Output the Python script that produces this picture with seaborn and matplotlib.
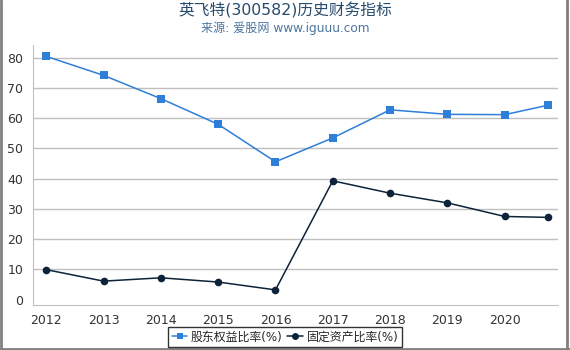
import pandas as pd
import matplotlib.pyplot as plt
import seaborn as sns
from matplotlib.lines import Line2D

# data
years = [2012, 2013, 2014, 2015, 2016, 2017, 2018, 2019, 2020, 2020.75]
equity_ratio = [80.5, 74.2, 66.5, 58.0, 45.6, 53.5, 62.8, 61.3, 61.2, 64.3]
fixed_asset_ratio = [9.9, 6.1, 7.2, 5.8, 3.2, 39.3, 35.2, 32.0, 27.5, 27.2]
tick_years = [2012, 2013, 2014, 2015, 2016, 2017, 2018, 2019, 2020]
y_ticks = [0, 10, 20, 30, 40, 50, 60, 70, 80]
series_names = ["股东权益比率(%)", "固定资产比率(%)"]
colors = ["#2f7ed8", "#0d233a"]

sns.set_style("white")
plt.rcParams["font.family"] = ["DejaVu Sans", "Noto Sans CJK SC"]

df = pd.DataFrame({
    "year": years * 2,
    "value": equity_ratio + fixed_asset_ratio,
    "series": [series_names[0]] * len(years) + [series_names[1]] * len(years),
})

fig = plt.figure(figsize=(5.7, 3.5), dpi=100)
ax = fig.add_axes([0.058, 0.129, 0.921, 0.742])

# gridlines (none at 0, the axis line sits just below it)
for v in y_ticks[1:]:
    ax.axhline(v, color="#c0c0c0", linewidth=1, zorder=0)

sns.lineplot(data=df, x="year", y="value", hue="series", style="series",
             palette=dict(zip(series_names, colors)),
             markers={series_names[0]: "s", series_names[1]: "o"},
             dashes=False, markersize=5.5, linewidth=1.1,
             markeredgewidth=0, ax=ax, legend=False)

ax.set_xlim(2011.77, 2020.93)
ax.set_ylim(-1.75, 84.2)
ax.set_xticks(tick_years)
ax.set_xticklabels([str(y) for y in tick_years])
ax.set_yticks(y_ticks)
ax.set_xlabel("")
ax.set_ylabel("")
for s in ["top", "right"]:
    ax.spines[s].set_visible(False)
ax.spines["left"].set_color("#c0c0c0")
ax.spines["bottom"].set_color("#c0c0c0")
ax.tick_params(axis="x", labelsize=9, colors="#333333", length=5, color="#c0c0c0", pad=1.5)
ax.tick_params(axis="y", labelsize=9, colors="#333333", length=4, color="#c0c0c0", pad=3)

fig.text(0.5, 0.970, "英飞特(300582)历史财务指标", ha="center", va="center",
         fontsize=11.3, color="#274b6d")
fig.text(0.5, 0.920, "来源: 爱股网 www.iguuu.com", ha="center", va="center",
         fontsize=8.7, color="#4d759e")

handles = [Line2D([0], [0], color=c, marker=m, markersize=5, linewidth=1.1,
                  markeredgewidth=0)
           for c, m in zip(colors, ["s", "o"])]
leg = fig.legend(handles, series_names, loc="center", bbox_to_anchor=(0.5, 0.037),
                 ncol=2, fontsize=8.6, frameon=True, fancybox=False,
                 handlelength=1.3, handletextpad=0.3, columnspacing=0.4,
                 borderpad=0.3, borderaxespad=0)
leg.get_frame().set_edgecolor("black")
leg.get_frame().set_linewidth(1)

# outer frame of the picture
for xs, ys in [([0.002, 0.002], [0, 1]), ([0.995, 0.995], [0, 1]), ([0, 1], [0.004, 0.004])]:
    fig.add_artist(Line2D(xs, ys, color="#808080", linewidth=2, transform=fig.transFigure))

fig.savefig("out.png", dpi=100)
